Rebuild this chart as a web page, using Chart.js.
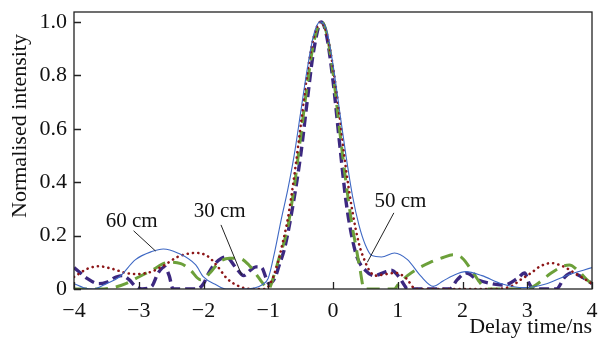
<!DOCTYPE html>
<html>
<head>
<meta charset="utf-8">
<script src="https://cdn.jsdelivr.net/npm/chart.js@4"></script>
<style>
  html, body { margin: 0; padding: 0; background: #fff; }
  canvas { display: block; }
</style>
</head>
<body>
<canvas id="pulseChart" width="598" height="345"></canvas>
<script>
// delay (ns), normalised intensity
const fibre60 = [
  [-4, 0.02], [-3.85, 0.005], [-3.7, 0.0], [-3.5, 0.02], [-3.3, 0.045], [-3.05, 0.11],
  [-2.8, 0.14], [-2.62, 0.15], [-2.4, 0.135], [-2.12, 0.09], [-2.0, 0.045], [-1.8, 0.015],
  [-1.65, 0.0], [-1.4, 0.0], [-1.2, 0.005], [-1.1, 0.015], [-1.0, 0.04], [-0.9, 0.14],
  [-0.8, 0.26], [-0.7, 0.37], [-0.6, 0.5], [-0.5, 0.66], [-0.4, 0.82], [-0.3, 0.95],
  [-0.2, 1.0], [-0.1, 0.97], [0.0, 0.84], [0.1, 0.67], [0.2, 0.5], [0.3, 0.35],
  [0.4, 0.24], [0.5, 0.165], [0.6, 0.125], [0.75, 0.12], [0.95, 0.135], [1.15, 0.11],
  [1.35, 0.05], [1.55, 0.01], [1.7, 0.03], [1.85, 0.05], [2.05, 0.065], [2.3, 0.05],
  [2.6, 0.02], [2.95, 0.005], [3.3, 0.02], [3.6, 0.05], [4.0, 0.08]
];
const fibre50 = [
  [-4, 0.045], [-3.8, 0.075], [-3.62, 0.085], [-3.4, 0.075], [-3.2, 0.06], [-3.05, 0.056],
  [-2.8, 0.065], [-2.6, 0.09], [-2.4, 0.12], [-2.12, 0.135], [-1.95, 0.125], [-1.8, 0.09],
  [-1.64, 0.04], [-1.45, 0.01], [-1.25, 0.0], [-1.05, 0.0], [-0.95, 0.03], [-0.85, 0.1],
  [-0.78, 0.17], [-0.7, 0.26], [-0.6, 0.42], [-0.5, 0.61], [-0.4, 0.8], [-0.3, 0.94],
  [-0.19, 1.0], [-0.1, 0.96], [0.0, 0.83], [0.1, 0.65], [0.2, 0.45], [0.3, 0.29],
  [0.4, 0.17], [0.5, 0.1], [0.56, 0.07], [0.65, 0.05], [0.8, 0.055], [0.97, 0.06],
  [1.13, 0.04], [1.28, 0.0], [1.6, 0.0], [2.0, 0.0], [2.5, 0.0], [2.75, 0.01],
  [2.9, 0.035], [3.06, 0.06], [3.2, 0.085], [3.37, 0.097], [3.55, 0.085], [3.73, 0.06],
  [3.9, 0.035], [4.0, 0.02]
];
const fibreGreen = [
  [-4, 0.0], [-3.6, 0.0], [-3.4, 0.005], [-3.2, 0.02], [-3.0, 0.045], [-2.8, 0.07],
  [-2.54, 0.1], [-2.35, 0.095], [-2.2, 0.07], [-2.05, 0.035], [-1.9, 0.06], [-1.76, 0.1],
  [-1.6, 0.115], [-1.45, 0.115], [-1.3, 0.09], [-1.2, 0.06], [-1.08, 0.02], [-1.0, 0.0],
  [-0.9, 0.06], [-0.84, 0.11], [-0.75, 0.18], [-0.7, 0.23], [-0.6, 0.38], [-0.5, 0.57],
  [-0.4, 0.76], [-0.3, 0.92], [-0.18, 1.0], [-0.1, 0.96], [0.0, 0.81], [0.1, 0.6],
  [0.2, 0.4], [0.3, 0.23], [0.35, 0.165], [0.42, 0.07], [0.48, 0.0], [0.7, 0.0],
  [0.95, 0.0], [1.0, 0.015], [1.15, 0.05], [1.3, 0.075], [1.5, 0.1], [1.7, 0.118],
  [1.85, 0.128], [2.0, 0.115], [2.14, 0.07], [2.3, 0.015], [2.4, 0.0], [3.0, 0.0],
  [3.1, 0.01], [3.19, 0.025], [3.37, 0.06], [3.55, 0.085], [3.65, 0.09], [3.8, 0.065],
  [3.92, 0.035], [4.0, 0.02]
];
const fibre30 = [
  [-4, 0.08], [-3.9, 0.06], [-3.8, 0.04], [-3.62, 0.02], [-3.5, 0.025], [-3.35, 0.045],
  [-3.25, 0.05], [-3.15, 0.035], [-3.05, 0.01], [-2.95, 0.0], [-2.8, 0.01], [-2.7, 0.06],
  [-2.6, 0.083], [-2.53, 0.05], [-2.47, 0.0], [-2.1, 0.0], [-2.0, 0.02], [-1.92, 0.06],
  [-1.84, 0.09], [-1.72, 0.115], [-1.65, 0.12], [-1.5, 0.08], [-1.38, 0.05], [-1.28, 0.07],
  [-1.19, 0.083], [-1.1, 0.08], [-1.04, 0.045], [-0.99, 0.02], [-0.9, 0.04], [-0.83, 0.09],
  [-0.75, 0.15], [-0.65, 0.27], [-0.5, 0.5], [-0.4, 0.7], [-0.3, 0.89], [-0.18, 1.0],
  [-0.1, 0.95], [0.0, 0.78], [0.1, 0.55], [0.2, 0.33], [0.28, 0.21], [0.37, 0.12],
  [0.5, 0.07], [0.64, 0.05], [0.82, 0.065], [0.9, 0.07], [1.02, 0.045], [1.1, 0.015],
  [1.15, 0.0], [1.8, 0.0], [1.92, 0.035], [2.06, 0.06], [2.23, 0.035], [2.45, 0.02],
  [2.65, 0.015], [2.85, 0.04], [2.96, 0.06], [3.03, 0.02], [3.1, 0.0], [3.45, 0.0],
  [3.58, 0.045], [3.68, 0.06], [3.88, 0.04], [4.0, 0.02]
];

const xTicks = [-4, -3, -2, -1, 0, 1, 2, 3, 4];
const yTicks = [0, 0.2, 0.4, 0.6, 0.8, 1.0];

// labels with leader lines, in data units
const noteText = ['60 cm', '30 cm', '50 cm'];
const notePos = [[-3.11, 0.251], [-1.75, 0.292], [1.04, 0.326]];
const leaderStart = [[-3.08, 0.218], [-1.73, 0.24], [0.94, 0.285]];
const leaderEnd = [[-2.74, 0.142], [-1.41, 0.052], [0.53, 0.10]];

const serif = '"Liberation Serif", "Times New Roman", Tinos, Times, serif';
const toXY = arr => arr.map(p => ({ x: p[0], y: p[1] }));

const framePlugin = {
  id: 'frame',
  afterDatasetsDraw(chart) {
    const { ctx, chartArea: a, scales } = chart;
    const xs = scales.x, ys = scales.y;
    ctx.save();
    ctx.strokeStyle = '#222';
    ctx.lineWidth = 1.3;
    ctx.strokeRect(a.left, a.top, a.right - a.left, a.bottom - a.top);
    ctx.beginPath();
    xTicks.forEach(v => {
      const px = Math.round(xs.getPixelForValue(v)) + 0.5;
      ctx.moveTo(px, a.bottom);
      ctx.lineTo(px, a.bottom - 7);
    });
    yTicks.forEach(v => {
      const py = Math.round(ys.getPixelForValue(v)) + 0.5;
      ctx.moveTo(a.left, py);
      ctx.lineTo(a.left + 7, py);
    });
    ctx.stroke();

    // annotations
    ctx.fillStyle = '#111';
    ctx.font = '21px ' + serif;
    ctx.textAlign = 'center';
    ctx.textBaseline = 'middle';
    noteText.forEach((t, i) => {
      ctx.fillText(t, xs.getPixelForValue(notePos[i][0]), ys.getPixelForValue(notePos[i][1]));
      ctx.beginPath();
      ctx.lineWidth = 1;
      ctx.moveTo(xs.getPixelForValue(leaderStart[i][0]), ys.getPixelForValue(leaderStart[i][1]));
      ctx.lineTo(xs.getPixelForValue(leaderEnd[i][0]), ys.getPixelForValue(leaderEnd[i][1]));
      ctx.stroke();
    });

    // y axis title
    ctx.save();
    ctx.translate(20, 126);
    ctx.rotate(-Math.PI / 2);
    ctx.font = '22px ' + serif;
    ctx.fillText('Normalised intensity', 0, 0);
    ctx.restore();
    ctx.restore();
  }
};

const ctx = document.getElementById('pulseChart').getContext('2d');
const pulseChart = new Chart(ctx, {
  type: 'line',
  data: {
    datasets: [
      {
        label: '60 cm',
        data: toXY(fibre60),
        borderColor: 'rgb(62, 104, 196)',
        borderWidth: 1.1
      },
      {
        label: '50 cm',
        data: toXY(fibre50),
        borderColor: 'rgb(140, 22, 24)',
        borderWidth: 2.6,
        borderDash: [0.1, 5.2],
        borderCapStyle: 'round'
      },
      {
        label: 'green',
        data: toXY(fibreGreen),
        borderColor: 'rgb(108, 160, 58)',
        borderWidth: 3,
        borderDash: [13, 8]
      },
      {
        label: '30 cm',
        data: toXY(fibre30),
        borderColor: 'rgb(60, 40, 128)',
        borderWidth: 3.4,
        borderDash: [10, 5]
      }
    ]
  },
  options: {
    responsive: false,
    animation: false,
    devicePixelRatio: 1,
    layout: { padding: { top: 12, right: 6, left: 0, bottom: 0 } },
    elements: {
      point: { radius: 0 },
      line: { cubicInterpolationMode: 'monotone', fill: false }
    },
    plugins: {
      legend: { display: false },
      tooltip: { enabled: false }
    },
    scales: {
      x: {
        type: 'linear',
        min: -4,
        max: 4,
        grid: { display: false, drawTicks: false },
        border: { display: false },
        afterBuildTicks: s => { s.ticks = xTicks.map(v => ({ value: v })); },
        afterFit: s => { s.height = 56; s.paddingLeft = 0; s.paddingRight = 0; },
        ticks: {
          padding: 9,
          color: '#111',
          font: { family: serif, size: 22 },
          callback: v => (v < 0 ? '\u2212' + Math.abs(v) : String(v))
        },
        title: {
          display: true,
          text: 'Delay time/ns',
          align: 'end',
          color: '#111',
          font: { family: serif, size: 22 },
          padding: { top: 0, bottom: 5 }
        }
      },
      y: {
        type: 'linear',
        min: 0,
        max: 1.037,
        grid: { display: false, drawTicks: false },
        border: { display: false },
        afterBuildTicks: s => { s.ticks = yTicks.map(v => ({ value: v })); },
        afterFit: s => { s.width = 74; s.paddingTop = 0; s.paddingBottom = 0; },
        ticks: {
          padding: 7,
          color: '#111',
          font: { family: serif, size: 22 },
          callback: v => (v === 0 ? '0' : v.toFixed(1))
        }
      }
    }
  },
  plugins: [framePlugin]
});
</script>
</body>
</html>
